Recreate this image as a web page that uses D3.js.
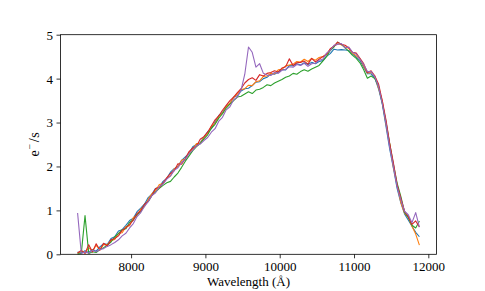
<!DOCTYPE html>
<html><head><meta charset="utf-8">
<script src="https://cdn.jsdelivr.net/npm/d3@7"></script>
<style>html,body{margin:0;padding:0;background:#fff;}svg{display:block;}</style>
</head><body>
<script>
const wavelength = d3.range(7280, 11881, 50);
const blue = [0.05,0.03,0.08,0.04,0.11,0.07,0.17,0.24,0.23,0.36,0.40,0.53,0.56,0.66,0.77,0.82,0.97,1.05,1.14,1.29,1.37,1.50,1.53,1.66,1.73,1.87,1.95,2.00,2.14,2.22,2.30,2.45,2.50,2.54,2.67,2.79,2.86,3.01,3.16,3.23,3.37,3.43,3.58,3.61,3.72,3.77,3.78,3.84,3.92,3.93,4.00,4.03,4.11,4.10,4.15,4.21,4.20,4.30,4.29,4.34,4.31,4.36,4.32,4.37,4.34,4.39,4.41,4.51,4.57,4.67,4.65,4.66,4.65,4.64,4.56,4.49,4.41,4.26,4.11,4.11,4.01,3.77,3.43,2.92,2.40,1.96,1.50,1.17,0.92,0.78,0.64,0.50,0.40];
const orange = [0.02,0.08,0.03,0.15,0.08,0.20,0.12,0.22,0.22,0.31,0.34,0.48,0.49,0.63,0.65,0.84,0.88,1.03,1.09,1.25,1.38,1.45,1.59,1.61,1.73,1.79,1.94,1.99,2.14,2.17,2.32,2.39,2.52,2.53,2.66,2.74,2.91,2.98,3.14,3.21,3.36,3.44,3.57,3.65,3.75,3.77,3.85,3.84,3.93,3.95,4.05,4.06,4.12,4.11,4.20,4.21,4.29,4.31,4.33,4.39,4.38,4.44,4.39,4.46,4.42,4.48,4.50,4.56,4.66,4.74,4.79,4.77,4.72,4.69,4.58,4.52,4.45,4.29,4.13,4.14,4.06,3.78,3.50,2.97,2.51,1.98,1.58,1.18,0.94,0.84,0.64,0.46,0.21];
const green = [0.01,0.02,0.88,0.02,0.06,0.04,0.11,0.15,0.21,0.28,0.40,0.47,0.56,0.58,0.73,0.78,0.91,0.97,1.13,1.20,1.34,1.42,1.50,1.57,1.63,1.66,1.76,1.85,1.98,2.12,2.24,2.36,2.45,2.52,2.63,2.72,2.87,2.96,3.10,3.20,3.33,3.42,3.50,3.58,3.60,3.65,3.70,3.66,3.74,3.76,3.80,3.86,3.84,3.90,3.94,3.98,4.03,4.06,4.12,4.10,4.16,4.20,4.17,4.22,4.26,4.30,4.40,4.50,4.64,4.72,4.83,4.78,4.70,4.62,4.53,4.46,4.36,4.20,4.01,4.06,4.00,3.83,3.44,3.02,2.52,2.05,1.62,1.32,0.96,0.84,0.66,0.60,0.76];
const red = [0.03,0.09,0.02,0.22,0.05,0.24,0.09,0.25,0.19,0.33,0.36,0.42,0.55,0.60,0.68,0.78,0.93,0.99,1.14,1.21,1.34,1.50,1.52,1.62,1.74,1.84,1.90,2.06,2.05,2.18,2.34,2.42,2.46,2.62,2.68,2.78,2.92,3.06,3.15,3.28,3.39,3.50,3.58,3.68,3.77,3.90,3.98,4.02,3.96,4.09,4.06,4.12,4.14,4.18,4.15,4.24,4.27,4.45,4.30,4.36,4.37,4.40,4.33,4.46,4.38,4.44,4.50,4.55,4.68,4.74,4.83,4.78,4.76,4.70,4.60,4.58,4.46,4.34,4.14,4.18,4.06,3.88,3.50,3.06,2.52,2.08,1.58,1.28,0.98,0.86,0.68,0.76,0.62];
const purple = [0.94,0.02,0.05,0.03,0.09,0.06,0.11,0.13,0.18,0.22,0.27,0.33,0.42,0.48,0.60,0.70,0.86,0.95,1.09,1.20,1.34,1.40,1.54,1.60,1.71,1.78,1.91,1.97,2.09,2.16,2.29,2.37,2.47,2.51,2.59,2.66,2.78,2.86,3.03,3.12,3.29,3.36,3.52,3.58,3.74,4.10,4.72,4.60,4.26,4.34,4.12,4.08,4.07,4.14,4.12,4.19,4.21,4.27,4.26,4.32,4.30,4.35,4.28,4.34,4.35,4.42,4.44,4.58,4.64,4.76,4.78,4.80,4.70,4.72,4.60,4.56,4.44,4.32,4.16,4.16,4.04,3.82,3.44,2.98,2.44,2.00,1.54,1.24,0.98,0.90,0.72,0.95,0.62];
const seriesList = [blue, orange, green, red, purple];
const colors = ["#1f77b4", "#ff7f0e", "#2ca02c", "#d62728", "#9467bd"];
const xTicks = [8000, 9000, 10000, 11000, 12000];
const yTicks = [0, 1, 2, 3, 4, 5];

const W = 485, H = 291;
const L = 60.5, R = 436.5, T = 34.7, B = 254.3;
const font = "'Liberation Serif', 'Times New Roman', serif";

const svg = d3.select("body").append("svg").attr("width", W).attr("height", H);
const x = d3.scaleLinear().domain([7050, 12110]).range([L, R]);
const y = d3.scaleLinear().domain([0, 5]).range([B, T]);

const line = d3.line().x((d, i) => x(wavelength[i])).y(d => y(d));
const plot = svg.append("g");
seriesList.forEach((s, k) => {
  plot.append("path").datum(s).attr("d", line)
    .attr("fill", "none").attr("stroke", colors[k]).attr("stroke-width", 1.1)
    .attr("stroke-linejoin", "round");
});

const xAxis = svg.append("g").attr("transform", `translate(0,${B})`)
  .call(d3.axisBottom(x).tickValues(xTicks).tickSize(4).tickPadding(3).tickFormat(d3.format("d")));
const yAxis = svg.append("g").attr("transform", `translate(${L},0)`)
  .call(d3.axisLeft(y).tickValues(yTicks).tickSize(4).tickPadding(3.5).tickFormat(d3.format("d")));
[xAxis, yAxis].forEach(a => {
  a.select(".domain").remove();
  a.selectAll("line").attr("stroke", "#000").attr("stroke-width", 0.8);
  a.selectAll("text").attr("font-family", font).attr("font-size", 13).attr("fill", "#000");
});
xAxis.selectAll("text").attr("dy", "0.75em");
yAxis.selectAll("text").attr("dy", "0.34em");

svg.append("rect").attr("x", L).attr("y", T).attr("width", R - L).attr("height", B - T)
  .attr("fill", "none").attr("stroke", "#000").attr("stroke-width", 0.8);

svg.append("text").attr("x", (L + R) / 2).attr("y", 286)
  .attr("text-anchor", "middle").attr("font-family", font).attr("font-size", 13)
  .text("Wavelength (Å)");

const yl = svg.append("text").attr("transform", `translate(38.5,${(T + B) / 2}) rotate(-90)`)
  .attr("text-anchor", "middle").attr("font-family", font).attr("font-size", 14);
yl.append("tspan").text("e");
yl.append("tspan").attr("dx", 1).attr("dy", -5.5).attr("font-size", 10).text("−");
yl.append("tspan").attr("dx", 1.5).attr("dy", 5.5).text("/");
yl.append("tspan").attr("dx", 0.5).text("s");
</script>
</body></html>
